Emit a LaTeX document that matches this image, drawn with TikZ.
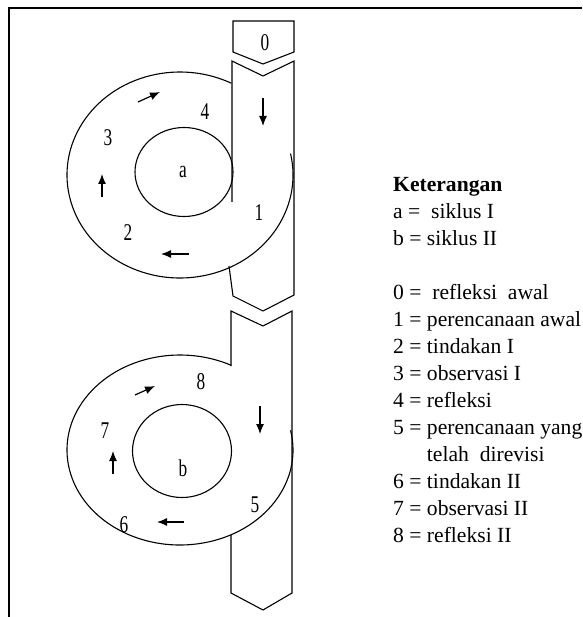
\documentclass[tikz,border=0pt]{standalone}
\usepackage{fontspec}
\setmainfont{Liberation Serif}
\usetikzlibrary{arrows.meta}
\tikzset{
  lbl/.style={font=\fontsize{24}{24}\selectfont, xscale=0.72, inner sep=0pt},
  flow/.style={line width=1.2pt, -{Latex[length=10pt,width=8pt]}},
  edge/.style={line width=1.1pt, line join=miter},
  legend/.style={font=\fontsize{21.6}{27}\selectfont, inner sep=0pt, anchor=north west},
}
\begin{document}
\begin{tikzpicture}[x=1pt, y=-1pt]
    \useasboundingbox (0,0) rectangle (582,617);
    % bingkai
    \draw[line width=1.8pt] (9,617) -- (9,8) -- (582,8);
    % refleksi awal
    \draw[edge] (233,21) -- (294,21) -- (294,52) -- (263,64) -- (233,52) -- cycle;
    \node[lbl] (n0) at (265,43) {0};
    % pita siklus I
    \draw[edge] (232,202) -- (232,61) -- (263,76) -- (294,61) -- (294,295)
        -- (263,311) -- (233,296) -- (229,266);
    % siklus I
    \coordinate (c1) at (180,175);
    \draw[edge] (c1) ++(-12:113 and 103) arc[start angle=-12, end angle=297, x radius=113, y radius=103];
    \draw[edge] (184,172) ellipse [x radius=49, y radius=44.5];
    \node[lbl] (sa) at (183,172) {a};
    \node[lbl] (n1) at (259,213) {1};
    \node[lbl] (n2) at (128,233) {2};
    \node[lbl] (n3) at (108,138) {3};
    \node[lbl] (n4) at (205,112) {4};
    \draw[flow] (263,98) -- (263,126);
    \draw[flow] (189,254) -- (161,254);
    \draw[flow] (102,197) -- (102,174);
    \draw[flow] (138,102) -- (160,92);
    % pita siklus II
    \draw[edge] (231,366) -- (231,311) -- (263,326) -- (292,311) -- (292,593)
        -- (263,610) -- (231,593) -- (231,535);
    % siklus II
    \coordinate (c2) at (180,450);
    \draw[edge] (c2) ++(-12:113 and 95) arc[start angle=-12, end angle=297, x radius=113, y radius=95];
    \draw[edge] (182,451) ellipse [x radius=49.5, y radius=46.5];
    \node[lbl] (sb) at (183,468) {b};
    \node[lbl] (n5) at (255,505) {5};
    \node[lbl] (n6) at (124,525) {6};
    \node[lbl] (n7) at (105,431) {7};
    \node[lbl] (n8) at (201,382) {8};
    \draw[flow] (260,406) -- (260,434);
    \draw[flow] (184,522) -- (157,522);
    \draw[flow] (113,474) -- (113,451);
    \draw[flow] (135,395) -- (155,386);
    % keterangan
    \node[legend] (ket) at (393,172) {%
      \begin{tabular}{@{}l@{}}
        \textbf{Keterangan}\\
        a =\ \ siklus I\\
        b = siklus II\\
        \\
        0 =\ \ refleksi\ \ awal\\
        1 = perencanaan awal\\
        2 = tindakan I\\
        3 = observasi I\\
        4 = refleksi\\
        5 = perencanaan yang\\
        \phantom{5 = }telah\ \ direvisi\\
        6 = tindakan II\\
        7 = observasi II\\
        8 = refleksi II
      \end{tabular}};
\end{tikzpicture}
\end{document}
